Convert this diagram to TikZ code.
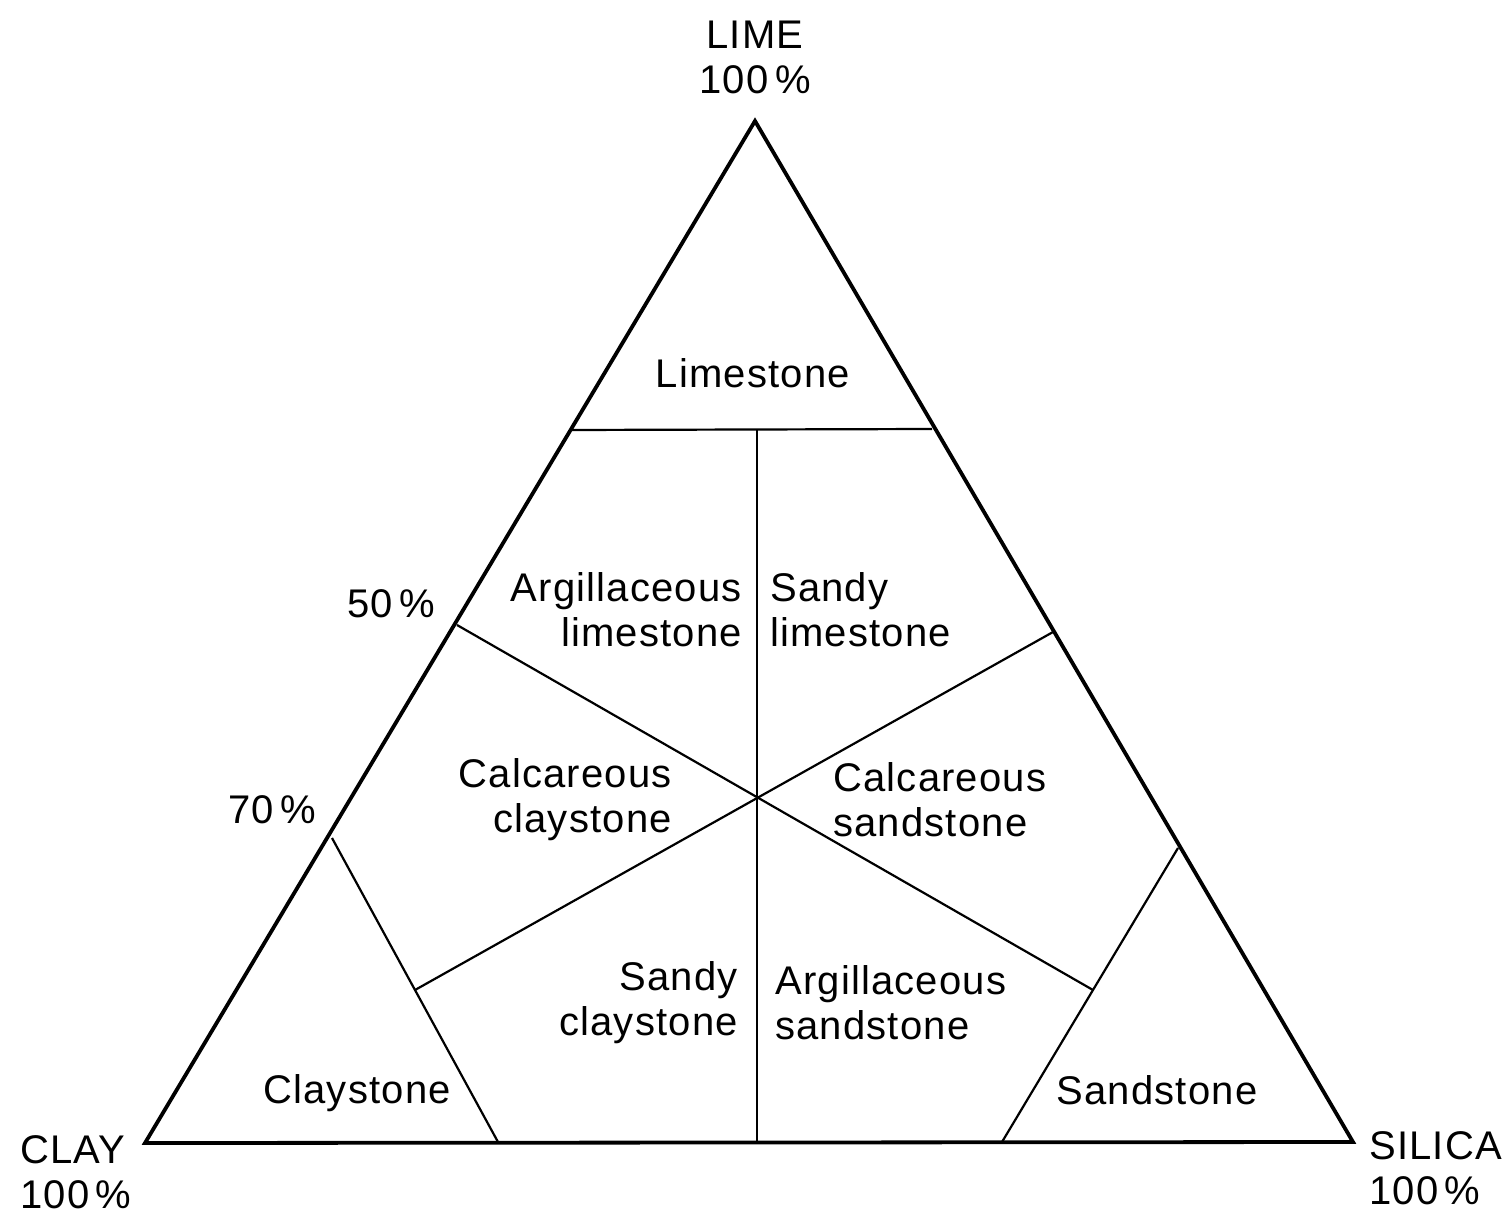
\documentclass[tikz,border=0pt]{standalone}
\usepackage{fontspec}
\setmainfont{Liberation Sans}[LetterSpace=3]
\begin{document}
\begin{tikzpicture}[x=1pt,y=-1pt,
  outer/.style={line width=3.8pt,line join=miter},
  inner/.style={line width=2.2pt},
  lbl/.style={inner sep=0pt,font=\fontsize{40}{45}\selectfont},
]
\useasboundingbox (0,0) rectangle (1507,1214);
% vertices and points
\coordinate (T) at (755,121);
\coordinate (L) at (145,1143);
\coordinate (R) at (1353,1142);
\coordinate (A) at (570,430);
\coordinate (B) at (932,429);
\coordinate (M50) at (457,625);
\coordinate (N50) at (1053,632);
\coordinate (C) at (757,797);
\coordinate (Vt) at (757,430);
\coordinate (Vb) at (757,1142);
\coordinate (P70) at (332,838);
\coordinate (Q) at (498,1142);
\coordinate (S70) at (1178,848);
\coordinate (Sb) at (1002,1142);
\coordinate (E1) at (1093,990);
\coordinate (E2) at (415,990);
% inner lines
\draw[inner] (A) -- (B);
\draw[inner] (Vt) -- (Vb);
\draw[inner] (M50) -- (E1);
\draw[inner] (N50) -- (E2);
\draw[inner] (P70) -- (Q);
\draw[inner] (S70) -- (Sb);
% outer triangle
\draw[outer] (T) -- (L) -- (R) -- cycle;
% labels
\node[lbl,align=center] (lime) at (755,57) {LIME\\100\,\%};
\node[lbl,align=left,anchor=west] (clay) at (20,1172) {CLAY\\100\,\%};
\node[lbl,align=left,anchor=west] (silica) at (1369,1168) {SILICA\\100\,\%};
\node[lbl] (p50) at (391,604) {50\,\%};
\node[lbl] (p70) at (272,810) {70\,\%};
\node[lbl] (limestone) at (753,373) {Limestone};
\node[lbl,align=right,anchor=east] (arglime) at (742,610) {Argillaceous\\limestone};
\node[lbl,align=left,anchor=west] (sandlime) at (770,610) {Sandy\\limestone};
\node[lbl,align=right,anchor=east] (calclay) at (672,800) {Calcareous\\claystone};
\node[lbl,align=left,anchor=west] (calsand) at (833,800) {Calcareous\\sandstone};
\node[lbl,align=right,anchor=east] (sandclay) at (738,1003) {Sandy\\claystone};
\node[lbl,align=left,anchor=west] (argsand) at (775,1003) {Argillaceous\\sandstone};
\node[lbl] (claystone) at (357,1093) {Claystone};
\node[lbl] (sandstone) at (1157,1090) {Sandstone};
\end{tikzpicture}
\end{document}
